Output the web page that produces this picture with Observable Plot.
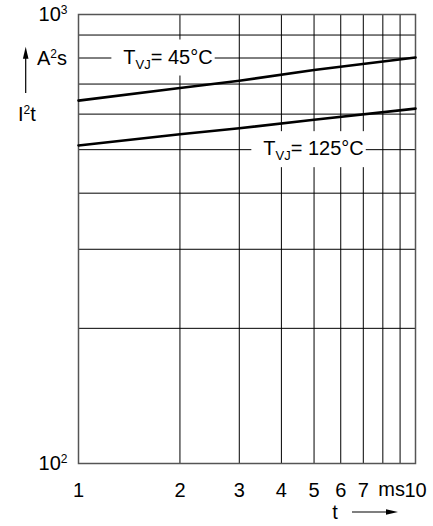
<!DOCTYPE html>
<html>
<head>
<meta charset="utf-8">
<script src="https://cdn.jsdelivr.net/npm/d3@7"></script>
<script src="https://cdn.jsdelivr.net/npm/@observablehq/plot@0.6"></script>
<style>
  html, body { margin: 0; padding: 0; background: #fff; }
  svg { display: block; }
</style>
</head>
<body>
<div id="chart"></div>
<script>
// ---- data ----
const t = [1, 2, 3, 5, 10];                      // ms
const i2t45 = [643, 686, 712, 752, 802];         // A²s, T_VJ = 45°C
const i2t125 = [511, 541, 558, 583, 617];        // A²s, T_VJ = 125°C
const xTicks = [1, 2, 3, 4, 5, 6, 7, 8, 9, 10];
const xTickLabels = [1, 2, 3, 4, 5, 6, 7, 10];
const yGrid = [100, 200, 300, 400, 500, 600, 700, 800, 900, 1000];
const yTickLabels = [100, 1000];
const yTickExp = {100: "2", 1000: "3"};
const seriesLabels = [
  {name: "45", tVal: 1.85, yVal: 800},
  {name: "125", tVal: 5.0, yVal: 500}
];

const rows = [
  ...t.map((x, i) => ({t: x, v: i2t45[i], s: "45"})),
  ...t.map((x, i) => ({t: x, v: i2t125[i], s: "125"}))
];

const FONT = "Liberation Sans, Arial, Helvetica, sans-serif";
const FS = 20;

const chart = Plot.plot({
  width: 433,
  height: 526,
  marginLeft: 78,
  marginRight: 18,
  marginTop: 14,
  marginBottom: 63,
  style: {fontFamily: FONT, fontSize: FS + "px", background: "#fff", color: "#000"},
  x: {type: "log", domain: [1, 10], ticks: xTickLabels, tickFormat: d => String(d), tickSize: 0, tickPadding: 19, label: null},
  y: {type: "log", domain: [100, 1000], ticks: yTickLabels, tickFormat: () => "10", tickSize: 0, tickPadding: 11, label: null},
  marks: [
    Plot.ruleX(xTicks, {stroke: "#000", strokeWidth: 1}),
    Plot.ruleY(yGrid, {stroke: "#000", strokeWidth: 1}),
    Plot.frame({stroke: "#555", strokeWidth: 1.5}),
    Plot.line(rows, {x: "t", y: "v", z: "s", stroke: "#000", strokeWidth: 2.6})
  ]
});

document.getElementById("chart").appendChild(chart);

const sx = chart.scale("x"), sy = chart.scale("y");
const svg = d3.select(chart);
const left = sx.apply(1), right = sx.apply(10), bottom = sy.apply(100);

// superscripts on the y tick labels (10² / 10³)
svg.selectAll('g[aria-label="y-axis tick label"] text').each(function(d, i) {
  const el = d3.select(this);
  const v = yTickLabels[i];
  el.append("tspan").attr("font-size", 12).attr("dy", -7).text(yTickExp[v]);
});

function richText(x, y, parts, anchor) {
  const txt = svg.append("text").attr("x", x).attr("y", y)
    .attr("text-anchor", anchor || "start")
    .attr("font-family", FONT).attr("font-size", FS).attr("fill", "#000");
  let shift = 0;
  for (const p of parts) {
    const ts = txt.append("tspan").text(p.s);
    const target = p.sup ? -7 : p.sub ? 5 : 0;
    if (p.sup || p.sub) ts.attr("font-size", p.sup ? 12 : 13);
    if (target !== shift) { ts.attr("dy", target - shift); shift = target; }
  }
  return txt;
}

// series labels with white box behind
for (const lab of seriesLabels) {
  const g = svg.append("g");
  const cx = sx.apply(lab.tVal), cy = sy.apply(lab.yVal);
  const txt = richText(cx, cy + 6, [{s: "T"}, {s: "VJ", sub: true}, {s: "= " + lab.name + "°C"}], "middle");
  g.node().appendChild(txt.node());
  const bb = txt.node().getBBox();
  g.insert("rect", "text")
    .attr("x", bb.x - 12).attr("y", bb.y - 6)
    .attr("width", bb.width + 14).attr("height", bb.height + 10)
    .attr("fill", "#fff");
}

// y-axis unit and quantity
richText(left - 11, sy.apply(800) + 7, [{s: "A"}, {s: "2", sup: true}, {s: "s"}], "end");
richText(left - 60, sy.apply(600) + 7, [{s: "I"}, {s: "2", sup: true}, {s: "t"}], "start");

// "ms" before the 10 tick label
richText(right - 10, bottom + 33, [{s: "ms"}], "end");

// y-axis arrow
const ax = 25.7;
const ay1 = sy.apply(667), ay2 = sy.apply(845);
svg.append("line").attr("x1", ax).attr("x2", ax).attr("y1", ay1).attr("y2", ay2 + 6)
  .attr("stroke", "#000").attr("stroke-width", 1.2);
svg.append("path").attr("d", `M${ax},${ay2} L${ax - 2.8},${ay2 + 12} L${ax + 2.8},${ay2 + 12} Z`).attr("fill", "#000");

// x-axis "t" + arrow
const ty = bottom + 49;
richText(335, ty + 7, [{s: "t"}], "middle");
svg.append("line").attr("x1", 352).attr("x2", 392).attr("y1", ty).attr("y2", ty)
  .attr("stroke", "#000").attr("stroke-width", 1.2);
svg.append("path").attr("d", `M398,${ty} L386,${ty - 2.8} L386,${ty + 2.8} Z`).attr("fill", "#000");
</script>
</body>
</html>
